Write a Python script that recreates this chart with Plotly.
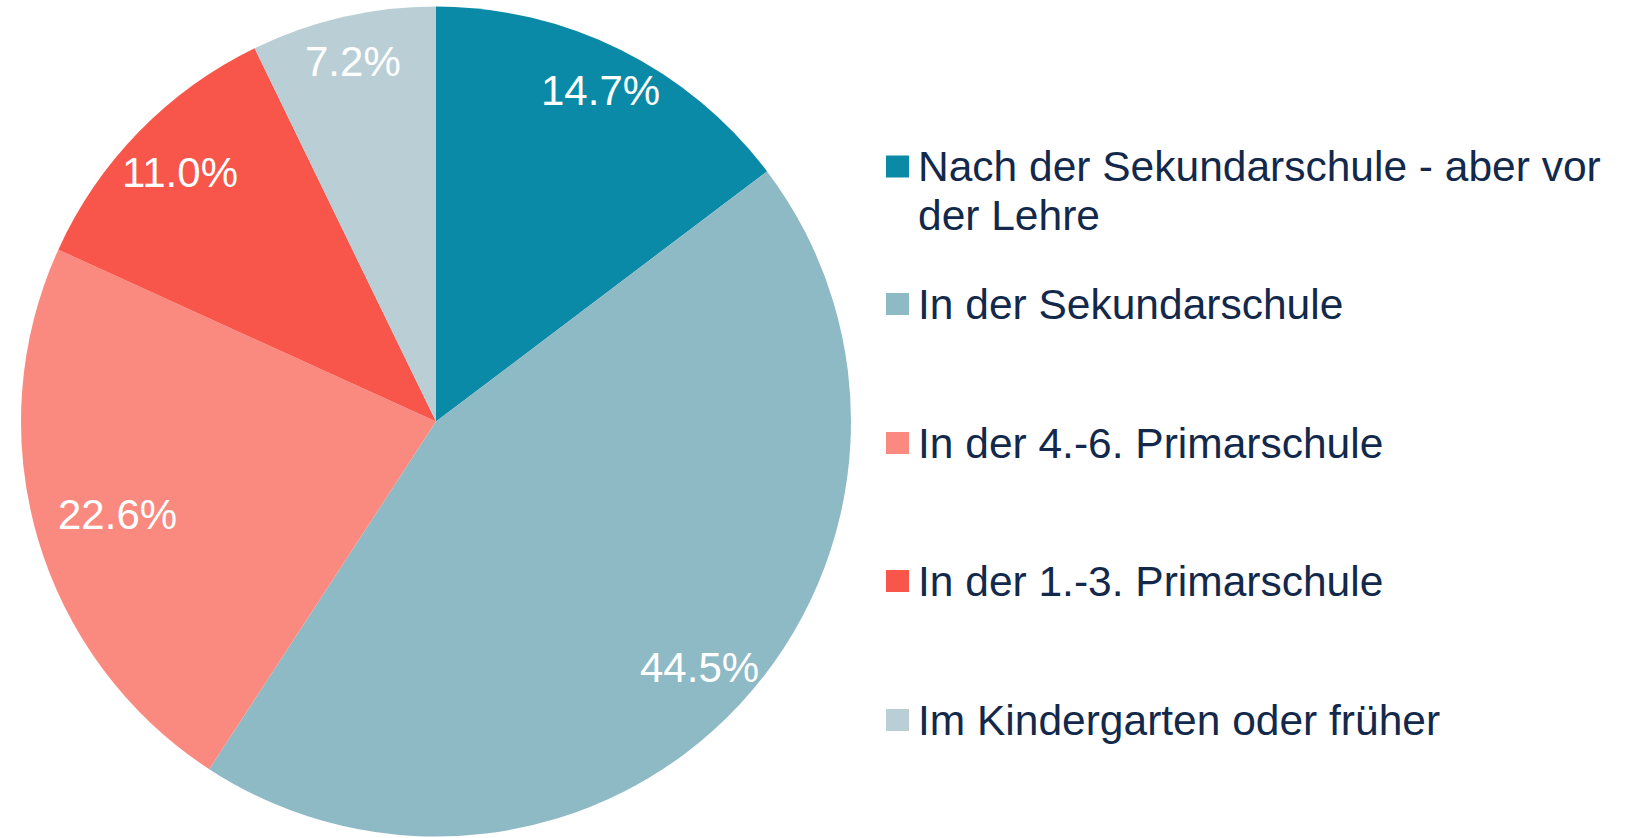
import math
import plotly.graph_objects as go

# ---- data ----
labels = [
    "Nach der Sekundarschule - aber vor der Lehre",
    "In der Sekundarschule",
    "In der 4.-6. Primarschule",
    "In der 1.-3. Primarschule",
    "Im Kindergarten oder früher",
]
values = [14.7, 44.5, 22.6, 11.0, 7.2]
legend_lines = [
    ["Nach der Sekundarschule - aber vor", "der Lehre"],
    ["In der Sekundarschule"],
    ["In der 4.-6. Primarschule"],
    ["In der 1.-3. Primarschule"],
    ["Im Kindergarten oder früher"],
]

# ---- style ----
colors = ["#0A8AA6", "#8EBAC5", "#FA8A80", "#F8564A", "#BACFD5"]
label_radius = [0.89, 0.87, 0.80, 0.86, 0.89]
W, H = 1631, 838
FONT = "Liberation Sans, Arial, sans-serif"
TEXT_COLOR = "#13294B"

# pie geometry (pixels)
cx, cy, r = 436.0, 421.6, 415.0
dom_x = [(cx - r) / W, (cx + r) / W]
dom_y = [1 - (cy + r) / H, 1 - (cy - r) / H]

fig = go.Figure(
    go.Pie(
        labels=labels,
        values=values,
        sort=False,
        direction="clockwise",
        rotation=0,
        marker=dict(colors=colors, line=dict(width=0)),
        textinfo="none",
        hoverinfo="label+percent",
        showlegend=False,
        domain=dict(x=dom_x, y=dom_y),
    )
)

annotations = []
shapes = []

# percentage labels placed along each slice bisector
total = sum(values)
cum = 0.0
for v, f in zip(values, label_radius):
    mid = (cum + v / 2) / total * 2 * math.pi
    cum += v
    px = cx + f * r * math.sin(mid)
    py = cy - f * r * math.cos(mid)
    annotations.append(
        dict(
            x=px / W, y=1 - py / H, xref="paper", yref="paper",
            text=f"{v / total * 100:.1f}%", showarrow=False,
            xanchor="center", yanchor="middle",
            font=dict(family=FONT, size=42, color="white"),
        )
    )

# custom legend
item_y = [166.5, 304, 443, 581, 720]
line_gap = 48.5
sq_x0, sq_x1, sq = 886, 909, 22
text_x = 916
for lines, col, yc in zip(legend_lines, colors, item_y):
    shapes.append(
        dict(
            type="rect", xref="paper", yref="paper",
            x0=sq_x0 / W, x1=sq_x1 / W,
            y0=1 - (yc + sq / 2) / H, y1=1 - (yc - sq / 2) / H,
            fillcolor=col, line=dict(width=0),
        )
    )
    for i, ln in enumerate(lines):
        annotations.append(
            dict(
                x=text_x / W, y=1 - (yc + i * line_gap) / H,
                xref="paper", yref="paper", text=ln, showarrow=False,
                xanchor="left", yanchor="middle",
                font=dict(family=FONT, size=42.5, color=TEXT_COLOR),
            )
        )

fig.update_layout(
    width=W, height=H,
    margin=dict(l=0, r=0, t=0, b=0),
    paper_bgcolor="white", plot_bgcolor="white",
    annotations=annotations, shapes=shapes,
)

fig.write_html(
    "out.html",
    config={"displayModeBar": False},
    post_script="document.body.style.margin='0';document.body.style.overflow='hidden';",
)
